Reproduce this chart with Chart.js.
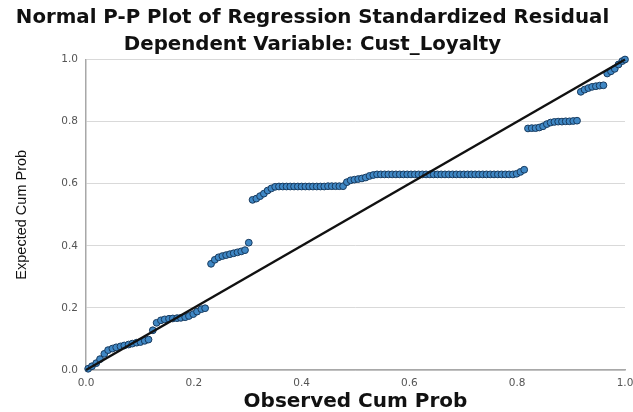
<!DOCTYPE html>
<html>
<head>
<meta charset="utf-8">
<script src="https://cdn.jsdelivr.net/npm/chart.js@4"></script>
<style>
  html,body{margin:0;padding:0;background:#fff;}
  #wrap{width:633px;height:412px;}
</style>
</head>
<body>
<div id="wrap"><canvas id="ppChart" width="633" height="412"></canvas></div>
<script>
// observed cum prob (x) and expected cum prob (y)
const observedCum = [
  0.004,0.011,0.019,0.026,0.034,0.041,0.049,0.056,0.064,0.071,0.079,0.086,0.094,0.101,0.109,
  0.116,0.124,0.131,0.139,0.146,0.154,0.161,0.169,0.176,0.184,0.191,0.199,0.206,0.214,0.221,
  0.232,0.239,0.246,0.253,0.260,0.267,0.274,0.281,0.288,0.295,0.302,
  0.309,0.316,0.323,0.330,0.337,0.344,0.351,
  0.358,0.365,0.372,0.379,0.386,0.393,0.400,0.407,0.414,0.421,0.428,0.435,0.442,0.449,0.456,0.463,0.470,0.477,
  0.484,0.491,0.498,0.505,0.512,0.519,0.526,0.533,
  0.540,0.547,0.554,0.561,0.568,0.575,0.582,0.589,0.596,0.603,0.610,0.617,0.624,0.631,0.638,0.645,0.652,0.659,
  0.666,0.673,0.680,0.687,0.694,0.701,0.708,0.715,0.722,0.729,0.736,0.743,0.750,0.757,0.764,0.771,0.778,0.785,0.792,
  0.799,0.806,0.813,
  0.820,0.827,0.834,0.841,0.848,0.855,0.862,0.869,0.876,0.883,0.890,0.897,0.904,0.911,
  0.918,0.925,0.932,0.939,0.946,0.953,0.960,
  0.967,0.974,0.981,0.988,0.995,1.000
];
const expectedCum = [
  0.004,0.012,0.022,0.035,0.052,0.064,0.069,0.073,0.076,0.079,0.082,0.085,0.088,0.090,0.094,
  0.098,0.128,0.152,0.160,0.163,0.165,0.166,0.167,0.168,0.170,0.174,0.180,0.188,0.196,0.199,
  0.342,0.355,0.363,0.367,0.370,0.373,0.376,0.379,0.382,0.386,0.410,
  0.548,0.552,0.560,0.568,0.578,0.585,0.590,
  0.591,0.591,0.591,0.591,0.591,0.591,0.591,0.591,0.591,0.591,0.591,0.591,0.591,0.592,0.592,0.592,0.592,0.592,
  0.605,0.611,0.613,0.615,0.617,0.620,0.625,0.628,
  0.630,0.630,0.630,0.630,0.630,0.630,0.630,0.630,0.630,0.630,0.630,0.630,0.630,0.630,0.630,0.630,0.630,0.630,
  0.630,0.630,0.630,0.630,0.630,0.630,0.630,0.630,0.630,0.630,0.630,0.630,0.630,0.630,0.630,0.630,0.630,0.630,0.630,
  0.632,0.638,0.645,
  0.778,0.779,0.779,0.781,0.785,0.792,0.797,0.799,0.800,0.800,0.801,0.801,0.802,0.803,
  0.896,0.903,0.908,0.912,0.914,0.916,0.917,
  0.955,0.962,0.970,0.984,0.995,1.000
];
// reference diagonal
const refLineX = [0, 1];
const refLineY = [0, 1];
const tickValues = [0, 0.2, 0.4, 0.6, 0.8, 1.0];

const points = observedCum.map((x,i)=>({x:x, y:expectedCum[i]}));
const diag = refLineX.map((x,i)=>({x:x, y:refLineY[i]}));

const tickFont = {family:'"DejaVu Sans", sans-serif', size:10.5};

new Chart(document.getElementById('ppChart'), {
  type:'scatter',
  data:{
    datasets:[
      {data:diag, showLine:true, borderColor:'#111', borderWidth:2.5, pointRadius:0, order:0, clip:false},
      {data:points, pointRadius:3.4, pointBackgroundColor:'#3f87c4', pointBorderColor:'#173a5e',
       pointBorderWidth:1, order:1, clip:false}
    ]
  },
  options:{
    responsive:false,
    animation:false,
    layout:{padding:{left:0,right:8,top:0,bottom:0}},
    plugins:{
      legend:{display:false},
      tooltip:{enabled:false},
      title:{display:true, text:'Normal P-P Plot of Regression Standardized Residual', color:'#111',
        font:{family:'"DejaVu Sans", sans-serif', size:19.8, weight:'bold', lineHeight:1.2}, padding:{top:6,bottom:0}},
      subtitle:{display:true, text:'Dependent Variable: Cust_Loyalty', color:'#111',
        font:{family:'"DejaVu Sans", sans-serif', size:19.8, weight:'bold', lineHeight:1.2}, padding:{top:3,bottom:3}}
    },
    scales:{
      x:{
        type:'linear', min:0, max:1,
        afterBuildTicks:s=>{ s.ticks = tickValues.map(v=>({value:v})); },
        afterFit:s=>{ s.height = 42; s.paddingLeft = 0; s.paddingRight = 0; },
        grid:{display:false, drawTicks:false},
        border:{display:true, color:'#a8a8a8', width:1.5},
        ticks:{padding:7, color:'#555', font:tickFont, maxRotation:0, callback:v=>v.toFixed(1)},
        title:{display:true, text:'Observed Cum Prob', color:'#111',
          font:{family:'"DejaVu Sans", sans-serif', size:20, weight:'bold', lineHeight:1}, padding:{top:0,bottom:0}}
      },
      y:{
        type:'linear', min:0, max:1,
        afterBuildTicks:s=>{ s.ticks = tickValues.map(v=>({value:v})); },
        afterFit:s=>{ s.width = 86; s.paddingTop = 0; s.paddingBottom = 0; },
        grid:{color:'#d9d9d9', lineWidth:1, drawTicks:false},
        border:{display:true, color:'#a8a8a8', width:1.5},
        ticks:{padding:8, color:'#555', font:tickFont, callback:v=>v.toFixed(1)},
        title:{display:true, text:'Expected Cum Prob', color:'#111',
          font:{family:'"Liberation Sans", Arial, sans-serif', size:14.5, lineHeight:1}, padding:{top:15,bottom:0}}
      }
    }
  }
});
</script>
</body>
</html>
